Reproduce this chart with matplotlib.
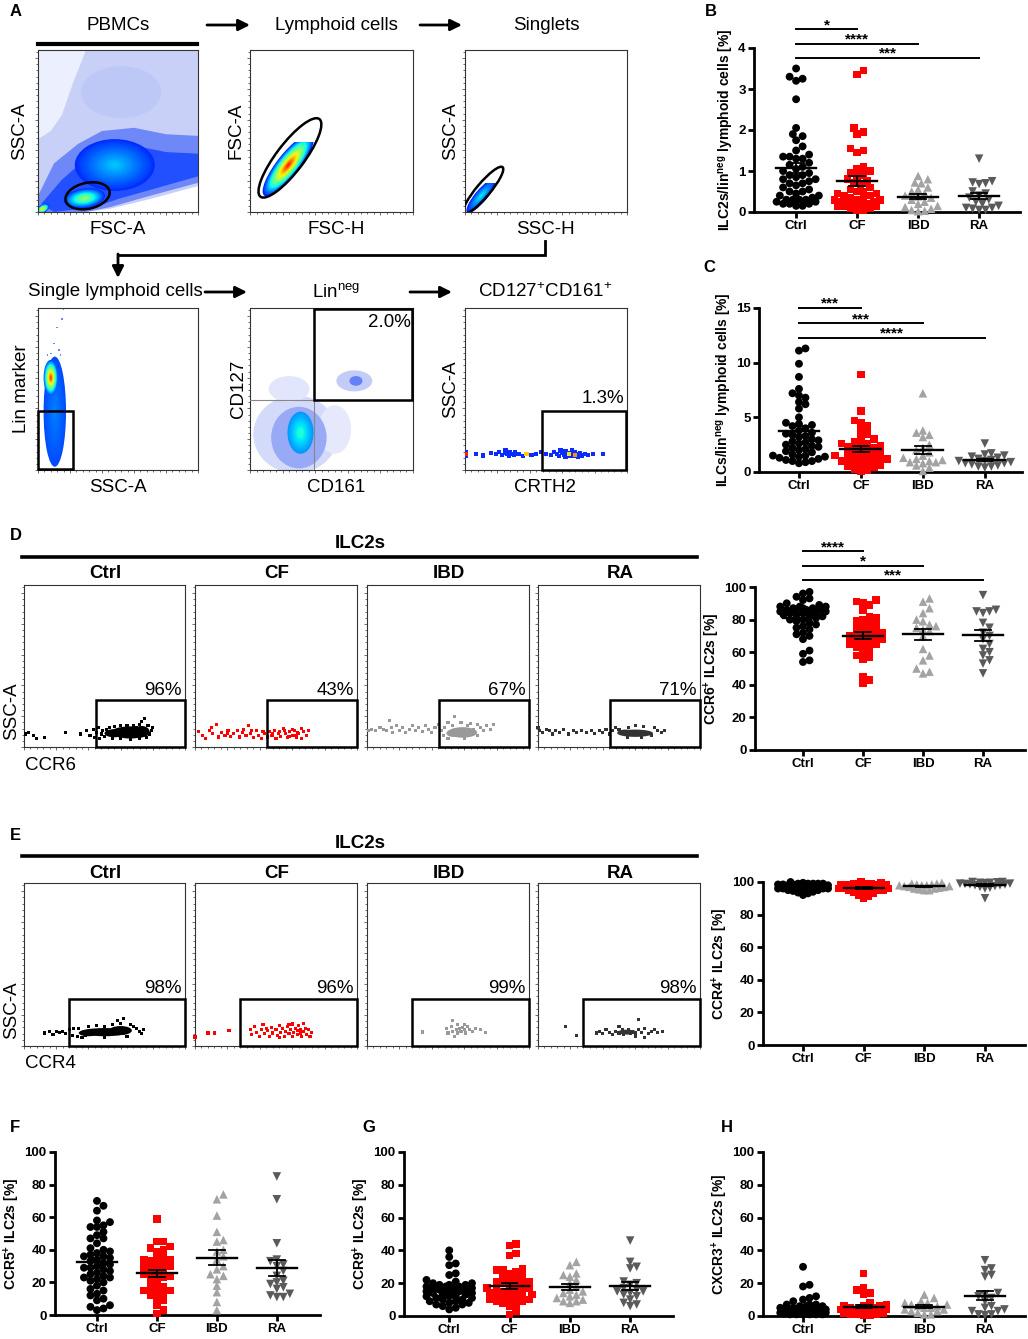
import numpy as np
import matplotlib
matplotlib.use("Agg")
import matplotlib.pyplot as plt
from matplotlib.patches import Ellipse, Rectangle, Polygon

plt.rcParams['font.family'] = ['Liberation Sans', 'DejaVu Sans']
plt.rcParams['mathtext.fontset'] = 'custom'
plt.rcParams['mathtext.rm'] = 'Liberation Sans'
plt.rcParams['mathtext.bf'] = 'Liberation Sans:bold'
plt.rcParams['mathtext.it'] = 'Liberation Sans:italic'

# ---------------------------------------------------------------- data
CATS = ['Ctrl', 'CF', 'IBD', 'RA']

# B: ILC2s / lin-neg lymphoid cells [%]
B_CTRL = [3.5, 3.3, 3.25, 3.2, 2.75, 2.05, 1.9, 1.85, 1.75, 1.6, 1.5, 1.4, 1.35, 1.35, 1.3,
          1.3, 1.2, 1.15, 1.1, 1.05, 1.0, 0.95, 0.9, 0.9, 0.85, 0.8, 0.8, 0.75, 0.7, 0.7,
          0.65, 0.6, 0.55, 0.5, 0.5, 0.45, 0.4, 0.4, 0.35, 0.3, 0.3, 0.3, 0.3, 0.25, 0.25,
          0.2, 0.2, 0.15, 0.15, 0.2]
B_CF = [3.45, 3.35, 2.05, 1.95, 1.9, 1.55, 1.5, 1.45, 1.1, 1.05, 1.0, 0.95, 0.9, 0.85, 0.8,
        0.75, 0.7, 0.65, 0.6, 0.55, 0.5, 0.5, 0.45, 0.45, 0.4, 0.4, 0.35, 0.35, 0.3, 0.3,
        0.3, 0.25, 0.25, 0.25, 0.2, 0.2, 0.2, 0.15, 0.15, 0.15, 0.1, 0.1, 0.05, 0.05]
B_IBD = [0.88, 0.8, 0.72, 0.7, 0.6, 0.55, 0.5, 0.45, 0.4, 0.38, 0.35, 0.3, 0.25, 0.2, 0.15,
         0.12, 0.08, 0.05, 0.03, 0.02]
B_RA = [1.3, 0.75, 0.72, 0.7, 0.68, 0.5, 0.45, 0.4, 0.35, 0.3, 0.25, 0.2, 0.15, 0.1, 0.1,
        0.08, 0.05, 0.05]
B_STATS = [(1, 4.46, '*'), (2, 4.1, '****'), (3, 3.76, '***')]

# C: ILCs / lin-neg lymphoid cells [%]
C_CTRL = [11.3, 11.1, 9.9, 8.7, 7.6, 7.2, 7.0, 6.8, 6.4, 6.2, 5.8, 5.0, 4.5, 4.4, 4.3, 4.2,
          4.0, 3.8, 3.6, 3.5, 3.3, 3.2, 3.0, 2.8, 2.7, 2.6, 2.5, 2.4, 2.3, 2.2, 2.0, 1.9,
          1.8, 1.6, 1.5, 1.4, 1.4, 1.3, 1.2, 1.1, 1.0, 1.0, 0.9, 0.8, 1.5, 2.1, 2.9, 3.4]
C_CF = [8.9, 5.6, 4.7, 4.5, 4.2, 3.8, 3.5, 3.2, 3.0, 2.8, 2.6, 2.5, 2.3, 2.2, 2.0, 1.9, 1.8,
        1.7, 1.6, 1.5, 1.4, 1.3, 1.2, 1.1, 1.0, 1.0, 0.9, 0.8, 0.7, 0.6, 0.5, 0.4, 0.3, 0.2,
        0.1, 1.5, 1.2, 2.1, 2.4, 2.6]
C_IBD = [7.2, 3.8, 3.6, 3.4, 3.2, 2.5, 2.2, 2.0, 1.8, 1.5, 1.3, 1.2, 1.0, 0.9, 0.9, 0.8,
         0.6, 0.4, 0.1, 1.1]
C_RA = [2.6, 1.7, 1.6, 1.5, 1.4, 1.3, 1.2, 1.1, 1.0, 1.0, 0.9, 0.8, 0.7, 0.6, 0.5, 0.5,
        0.4, 0.8]
C_STATS = [(1, 15.0, '***'), (2, 13.6, '***'), (3, 12.3, '****')]

# D: CCR6+ ILC2s [%]
D_CTRL = [97, 96, 94, 93, 92, 90, 89, 88, 88, 87, 87, 86, 86, 85, 85, 84, 84, 83, 83, 82,
          82, 81, 80, 80, 79, 78, 77, 76, 75, 74, 72, 71, 70, 68, 61, 59, 55, 54, 86, 84,
          88, 87, 86, 85]
D_CF = [92, 91, 90, 89, 86, 82, 81, 80, 79, 78, 77, 76, 75, 74, 73, 72, 72, 71, 70, 70, 69,
        68, 68, 67, 66, 65, 65, 64, 63, 62, 60, 58, 57, 56, 45, 43, 41]
D_IBD = [93, 91, 87, 84, 80, 79, 77, 76, 75, 73, 74, 70, 62, 58, 55, 50, 48, 47]
D_RA = [95, 86, 85, 85, 84, 78, 75, 72, 70, 68, 65, 62, 60, 58, 55, 53, 47]
D_STATS = [(1, 122, '****'), (2, 113, '*'), (3, 104.6, '***')]

# E: CCR4+ ILC2s [%]
E_CTRL = [100, 99.5, 99, 99, 99, 98.5, 98.5, 98, 98, 98, 98, 97.5, 97.5, 97.5, 97, 97, 97,
          97, 96.5, 96.5, 96, 96, 96, 95.5, 95, 95, 94.5, 94, 93.5, 93, 92, 98, 98.5, 99,
          97, 96, 97.5, 98, 99]
E_CF = [100, 99.5, 99, 99, 98.5, 98, 98, 97.5, 97, 97, 96.5, 96, 96, 95.5, 95, 95, 94.5, 94,
        93.5, 93, 92, 91, 90, 98, 97, 96, 95, 99, 98]
E_IBD = [99.5, 99, 99, 98.5, 98.5, 98, 98, 97.5, 97.5, 97, 97, 96.5, 96, 96, 95.5, 95, 95, 98]
E_RA = [100, 100, 99.8, 99.5, 99.5, 99.3, 99, 99, 98.8, 98.5, 98.5, 98, 98, 97.5, 97, 96.5,
        96, 90]

# F: CCR5+ ILC2s [%]
F_CTRL = [70, 67, 64, 58, 57, 55, 54, 54, 51, 49, 47, 47, 44, 41, 40, 39, 38, 37, 36, 36, 35,
          34, 33, 32, 31, 30, 29, 29, 28, 27, 26, 25, 24, 23, 23, 22, 21, 20, 18, 16, 15, 13,
          12, 10, 9, 6, 5, 4, 3]
F_CF = [59, 45, 45, 42, 41, 40, 39, 36, 35, 34, 34, 33, 32, 31, 30, 30, 29, 28, 27, 25, 24,
        24, 23, 22, 20, 18, 17, 16, 15, 15, 14, 13, 12, 10, 9, 6, 3, 1]
F_IBD = [74, 71, 61, 51, 46, 45, 40, 36, 34, 30, 28, 25, 24, 22, 18, 14, 8, 3, 39]
F_RA = [85, 71, 44, 34, 33, 31, 30, 27, 24, 21, 20, 19, 17, 13, 12, 11, 11, 16]

# G: CCR9+ ILC2s [%]
G_CTRL = [40, 36, 32, 31, 26, 25, 22, 21, 20, 20, 19, 19, 18, 18, 18, 17, 17, 17, 16, 16, 16,
          15, 15, 15, 14, 14, 14, 13, 13, 12, 12, 12, 11, 11, 10, 10, 9, 9, 8, 8, 7, 7, 6, 5,
          4, 19, 17, 16]
G_CF = [44, 43, 38, 37, 29, 28, 28, 27, 26, 25, 24, 23, 22, 21, 20, 20, 19, 18, 17, 17, 16,
        15, 15, 14, 14, 13, 12, 12, 11, 11, 10, 10, 10, 9, 9, 8, 7, 6, 3, 1, 21, 16]
G_IBD = [33, 31, 26, 25, 24, 22, 20, 18, 16, 15, 14, 13, 12, 11, 10, 9, 9, 8]
G_RA = [46, 33, 30, 29, 21, 20, 19, 17, 16, 15, 15, 14, 13, 12, 10, 8, 7, 6]

# H: CXCR3+ ILC2s [%]
H_CTRL = [30, 19, 18, 12, 10, 9, 11, 7, 7, 7, 6, 6, 5, 5, 5, 4, 4, 4, 4, 3, 3, 3, 3, 3, 3, 2,
          2, 2, 2, 2, 2, 2, 1, 1, 1, 1, 1, 1, 1.5, 1.5, 1.5, 1.5, 4, 3, 2, 6, 5, 3]
H_CF = [26, 17, 16, 14, 13, 8, 7, 6, 6, 5, 5, 5, 4, 4, 4, 3, 3, 3, 2, 2, 2, 2, 1, 1, 1, 0.5,
        0.5, 3, 4, 5, 6, 2]
H_IBD = [13, 11, 9, 8, 8, 7, 7, 6, 6, 5, 5, 4, 4, 3, 3, 2, 1, 1]
H_RA = [34, 29, 28, 25, 24, 14, 13, 12, 11, 9, 6, 5, 4, 3, 3, 1, 1, 0.5]

# flow cytometry gate readouts
D_PCT = ['96%', '43%', '67%', '71%']
E_PCT = ['98%', '96%', '99%', '98%']
LIN_PCT = '2.0%'
CRTH2_PCT = '1.3%'

# density clouds (cx, cy, w, h, angle, peak colour)
PBMC_BLOBS = [(0.48, 0.29, 0.5, 0.32, 0, 0.32), (0.29, 0.085, 0.26, 0.12, 8, 0.55),
              (0.03, 0.02, 0.09, 0.05, 30, 0.72)]
LYMPH_BLOBS = [(0.235, 0.29, 0.48, 0.14, 52, 0.88)]
SINGLET_BLOBS = [(0.1, 0.1, 0.27, 0.075, 50, 0.36)]
LIN_BLOBS = [(0.105, 0.36, 0.14, 0.68, 0, 0.25), (0.08, 0.57, 0.09, 0.22, 0, 0.86)]
CD_BLOBS = [(0.31, 0.23, 0.16, 0.26, 0, 0.4)]
LIN_SPARSE = [(0.16, 0.99), (0.15, 0.93), (0.12, 0.88), (0.1, 0.78), (0.13, 0.74),
              (0.08, 0.72), (0.14, 0.71), (0.06, 0.71)]
CRTH2_EV = [(0.005, 0.11), (0.005, 0.09), (0.07, 0.1), (0.11, 0.09), (0.16, 0.105), (0.19, 0.1),
            (0.21, 0.11), (0.23, 0.095), (0.245, 0.105), (0.26, 0.1), (0.27, 0.09), (0.28, 0.11),
            (0.29, 0.1), (0.3, 0.095), (0.31, 0.11), (0.33, 0.1), (0.36, 0.085), (0.38, 0.1),
            (0.41, 0.095), (0.44, 0.1), (0.47, 0.11), (0.5, 0.1), (0.53, 0.095), (0.55, 0.11),
            (0.57, 0.1), (0.58, 0.085), (0.6, 0.105), (0.61, 0.095), (0.62, 0.115), (0.63, 0.1),
            (0.64, 0.09), (0.65, 0.105), (0.66, 0.1), (0.67, 0.085), (0.68, 0.11), (0.69, 0.095),
            (0.7, 0.1), (0.71, 0.105), (0.72, 0.09), (0.74, 0.1), (0.76, 0.095), (0.79, 0.1),
            (0.85, 0.1), (0.59, 0.12), (0.62, 0.08), (0.66, 0.12), (0.7, 0.08), (0.25, 0.12)]
CRTH2_HOT = [(0.004, 0.1), (0.38, 0.1), (0.64, 0.1), (0.68, 0.095)]

D_CTRL_EV = [(0.01, 0.08), (0.03, 0.09), (0.06, 0.07), (0.08, 0.05), (0.13, 0.06), (0.26, 0.09),
             (0.35, 0.08), (0.39, 0.1), (0.41, 0.07), (0.43, 0.11), (0.44, 0.06), (0.45, 0.09),
             (0.46, 0.12), (0.47, 0.05), (0.48, 0.08), (0.49, 0.1), (0.5, 0.065), (0.51, 0.11),
             (0.53, 0.12), (0.56, 0.125), (0.6, 0.13), (0.64, 0.135), (0.68, 0.13), (0.72, 0.14),
             (0.75, 0.175), (0.73, 0.155), (0.77, 0.13), (0.79, 0.1), (0.8, 0.12), (0.78, 0.08),
             (0.76, 0.06), (0.72, 0.05), (0.66, 0.045), (0.6, 0.05), (0.55, 0.055),
             (0.52, 0.085), (0.7, 0.12)]
D_CF_EV = [(0.02, 0.093), (0.047, 0.072), (0.066, 0.052), (0.088, 0.103), (0.11, 0.082),
           (0.13, 0.14), (0.144, 0.062), (0.165, 0.087), (0.185, 0.072), (0.204, 0.103),
           (0.22, 0.066), (0.24, 0.082), (0.26, 0.1), (0.276, 0.062), (0.295, 0.087),
           (0.315, 0.072), (0.33, 0.134), (0.34, 0.082), (0.36, 0.058), (0.38, 0.1),
           (0.39, 0.072), (0.41, 0.052), (0.43, 0.082), (0.45, 0.062), (0.46, 0.093),
           (0.475, 0.072), (0.49, 0.103), (0.5, 0.052), (0.516, 0.082), (0.53, 0.066),
           (0.544, 0.113), (0.558, 0.082), (0.57, 0.058), (0.586, 0.093), (0.6, 0.072),
           (0.613, 0.103), (0.627, 0.062), (0.64, 0.082), (0.655, 0.052), (0.668, 0.093),
           (0.69, 0.072), (0.7, 0.1), (0.55, 0.1), (0.6, 0.11), (0.63, 0.09), (0.58, 0.065),
           (0.52, 0.095), (0.66, 0.115), (0.48, 0.085), (0.62, 0.07), (0.1, 0.12),
           (0.2, 0.085), (0.3, 0.11), (0.42, 0.095), (0.35, 0.1)]
D_IBD_EV = [(0.01, 0.1), (0.03, 0.11), (0.05, 0.1), (0.08, 0.12), (0.1, 0.11), (0.12, 0.1),
            (0.14, 0.165), (0.15, 0.12), (0.16, 0.09), (0.18, 0.13), (0.2, 0.1), (0.22, 0.12),
            (0.24, 0.09), (0.26, 0.11), (0.28, 0.13), (0.3, 0.1), (0.32, 0.12), (0.34, 0.095),
            (0.36, 0.13), (0.38, 0.11), (0.4, 0.09), (0.42, 0.12), (0.44, 0.14), (0.46, 0.1),
            (0.54, 0.186), (0.5, 0.15), (0.58, 0.15), (0.64, 0.145), (0.68, 0.14), (0.7, 0.12),
            (0.72, 0.1), (0.74, 0.13), (0.76, 0.11), (0.78, 0.14), (0.6, 0.05), (0.5, 0.05),
            (0.48, 0.12), (0.53, 0.13), (0.62, 0.13), (0.66, 0.11), (0.68, 0.07), (0.47, 0.07)]
D_RA_EV = [(0.0, 0.12), (0.01, 0.1), (0.03, 0.09), (0.05, 0.11), (0.07, 0.1), (0.09, 0.08),
           (0.11, 0.1), (0.13, 0.09), (0.16, 0.11), (0.19, 0.08), (0.22, 0.1), (0.24, 0.09),
           (0.27, 0.1), (0.3, 0.09), (0.33, 0.1), (0.35, 0.085), (0.38, 0.1), (0.4, 0.09),
           (0.42, 0.11), (0.44, 0.08), (0.46, 0.1), (0.48, 0.12), (0.72, 0.12), (0.74, 0.1),
           (0.76, 0.09), (0.78, 0.1), (0.6, 0.13), (0.65, 0.125), (0.55, 0.06), (0.5, 0.11),
           (0.56, 0.12), (0.7, 0.07), (0.64, 0.06)]
E_CTRL_EV = [(0.13, 0.08), (0.16, 0.09), (0.18, 0.07), (0.2, 0.09), (0.22, 0.085), (0.24, 0.09),
             (0.26, 0.075), (0.28, 0.1), (0.3, 0.065), (0.31, 0.105), (0.33, 0.06), (0.7, 0.11),
             (0.72, 0.09), (0.74, 0.1), (0.73, 0.075), (0.62, 0.17), (0.6, 0.14), (0.55, 0.13),
             (0.66, 0.13), (0.4, 0.12), (0.45, 0.125), (0.5, 0.05), (0.36, 0.05), (0.34, 0.11),
             (0.38, 0.065), (0.5, 0.12), (0.64, 0.06), (0.68, 0.12), (0.58, 0.155)]
E_CF_EV = [(0.0, 0.055), (0.08, 0.08), (0.12, 0.08), (0.21, 0.095), (0.34, 0.1), (0.35, 0.07),
           (0.37, 0.12), (0.38, 0.085), (0.4, 0.06), (0.41, 0.1), (0.42, 0.13), (0.43, 0.075),
           (0.45, 0.095), (0.46, 0.06), (0.47, 0.115), (0.48, 0.08), (0.5, 0.1), (0.51, 0.065),
           (0.52, 0.125), (0.53, 0.085), (0.54, 0.105), (0.55, 0.06), (0.56, 0.09), (0.57, 0.12),
           (0.58, 0.075), (0.59, 0.1), (0.6, 0.135), (0.6, 0.06), (0.61, 0.085), (0.62, 0.11),
           (0.63, 0.07), (0.63, 0.095), (0.64, 0.125), (0.65, 0.08), (0.65, 0.1), (0.66, 0.06),
           (0.67, 0.14), (0.67, 0.09), (0.68, 0.11), (0.69, 0.07), (0.7, 0.1), (0.71, 0.06),
           (0.72, 0.085), (0.58, 0.13), (0.52, 0.05), (0.44, 0.11)]
E_IBD_EV = [(0.34, 0.086), (0.53, 0.158), (0.49, 0.11), (0.5, 0.08), (0.52, 0.12), (0.53, 0.09),
            (0.54, 0.06), (0.55, 0.1), (0.56, 0.08), (0.57, 0.11), (0.58, 0.09), (0.59, 0.115),
            (0.6, 0.1), (0.61, 0.08), (0.62, 0.12), (0.63, 0.1), (0.65, 0.09), (0.67, 0.11),
            (0.7, 0.1), (0.73, 0.085), (0.56, 0.13), (0.6, 0.13)]
E_RA_EV = [(0.17, 0.12), (0.24, 0.065), (0.36, 0.08), (0.38, 0.09), (0.4, 0.075), (0.42, 0.1),
           (0.44, 0.085), (0.46, 0.07), (0.48, 0.09), (0.5, 0.08), (0.52, 0.1), (0.53, 0.07),
           (0.54, 0.085), (0.56, 0.1), (0.57, 0.075), (0.58, 0.09), (0.6, 0.08), (0.62, 0.16),
           (0.62, 0.1), (0.64, 0.085), (0.66, 0.11), (0.68, 0.075), (0.7, 0.09), (0.72, 0.1),
           (0.74, 0.085), (0.77, 0.09), (0.6, 0.06), (0.66, 0.05), (0.5, 0.12)]
# dense cores of the CCR6 / CCR4 event clouds (cx, cy, w, h)
D_CORES = [[(0.66, 0.09, 0.24, 0.075), (0.56, 0.085, 0.12, 0.05), (0.73, 0.095, 0.1, 0.07)],
           [],
           [(0.59, 0.09, 0.18, 0.065), (0.53, 0.085, 0.08, 0.045)],
           [(0.6, 0.085, 0.22, 0.045), (0.54, 0.09, 0.1, 0.035)]]
E_CORES = [[(0.5, 0.085, 0.3, 0.05), (0.6, 0.095, 0.14, 0.055), (0.4, 0.08, 0.12, 0.04)],
           [], [], [(0.55, 0.085, 0.12, 0.03)]]

# ---------------------------------------------------------------- style
W, H = 1028, 1339
GROUP_COLORS = ['#000000', '#ff0000', '#a3a3a3', '#5a5a5a']
GROUP_MARKERS = ['o', 's', '^', 'v']
GROUP_SIZES = [32, 30, 38, 38]

fig = plt.figure(figsize=(W / 100, H / 100), dpi=100)

ov = fig.add_axes([0, 0, 1, 1])
ov.set_xlim(0, W)
ov.set_ylim(H, 0)
ov.axis('off')


def px_axes(x0, y0, x1, y1):
    return fig.add_axes([x0 / W, 1 - y1 / H, (x1 - x0) / W, (y1 - y0) / H])


def label(x, y, s, size=13.5, weight='normal', **kw):
    ov.text(x, y, s, fontsize=size, fontweight=weight, ha=kw.pop('ha', 'center'),
            va=kw.pop('va', 'center'), **kw)


def arrow(x0, y0, x1, y1):
    ov.annotate('', xy=(x1, y1), xytext=(x0, y0),
                arrowprops=dict(arrowstyle='-|>', color='black', lw=2,
                                mutation_scale=17, shrinkA=0, shrinkB=0))


def flow_axes(box):
    ax = px_axes(*box)
    ax.set_xlim(0, 1)
    ax.set_ylim(0, 1)
    for s in ax.spines.values():
        s.set_linewidth(0.8)
        s.set_color('#333333')
    ax.set_xticks(np.arange(0, 1.01, 0.2))
    ax.set_yticks(np.arange(0, 1.0, 0.19))
    ax.set_xticks(np.arange(0, 1.0, 0.04), minor=True)
    ax.set_yticks(np.arange(0, 1.0, 0.038), minor=True)
    ax.tick_params(which='both', direction='out', length=2.5, width=0.6, colors='#555555',
                   labelbottom=False, labelleft=False)
    ax.tick_params(which='minor', length=1.3)
    return ax


def blob(ax, spec, n=18, clip_top=None, start=0.2):
    cx, cy, w, h, ang, peak = spec
    clip = None
    if clip_top is not None:
        clip = Rectangle((0, 0), 1, clip_top, transform=ax.transData)
    for i in range(n):
        f = 1 - i / n
        c = plt.cm.jet(start + (peak - start) * i / (n - 1))
        e = Ellipse((cx, cy), w * f, h * f, angle=ang, facecolor=c, edgecolor='none', zorder=2)
        ax.add_patch(e)
        if clip is not None:
            e.set_clip_path(clip)


def gate_box(ax, x0, y0, x1, y1, lw=1.8):
    ax.add_patch(Rectangle((x0, y0), x1 - x0, y1 - y0, fill=False, edgecolor='black',
                           lw=lw, zorder=5, clip_on=False))


def swarm_offsets(vals, ax, d_px=6.0, max_w=0.42):
    bb = ax.get_window_extent()
    x0, x1 = ax.get_xlim()
    y0, y1 = ax.get_ylim()
    ppx = bb.width / (x1 - x0)
    ppy = bb.height / (y1 - y0)
    vals = np.asarray(vals, float)
    out = np.zeros(len(vals))
    placed = []
    cands = [0.0]
    k = 1
    while k * d_px * 0.5 <= max_w * ppx:
        cands += [k * d_px * 0.5, -k * d_px * 0.5]
        k += 1
    for idx in np.argsort(vals):
        y = vals[idx] * ppy
        best, best_d = 0.0, -1
        for c in cands:
            md = min([np.hypot(c - px, y - py) for px, py in placed], default=1e9)
            if md >= d_px:
                best = c
                break
            if md > best_d:
                best, best_d = c, md
        placed.append((best, y))
        out[idx] = best / ppx
    return out


def dot_panel(box, xlim, ylim, yticks, ylabel, groups, stats=None, d_px=6.5):
    ax = px_axes(*box)
    ax.set_xlim(*xlim)
    ax.set_ylim(*ylim)
    for i, vals in enumerate(groups):
        xo = swarm_offsets(vals, ax, d_px)
        ax.scatter(i + xo, vals, s=GROUP_SIZES[i], marker=GROUP_MARKERS[i],
                   color=GROUP_COLORS[i], edgecolors='none', zorder=3, clip_on=False)
        m = np.mean(vals)
        sem = np.std(vals, ddof=1) / np.sqrt(len(vals))
        ax.plot([i - 0.33, i + 0.33], [m, m], color='black', lw=1.7, zorder=4)
        for v in (m - sem, m + sem):
            ax.plot([i - 0.13, i + 0.13], [v, v], color='black', lw=1.3, zorder=4)
        ax.plot([i, i], [m - sem, m + sem], color='black', lw=1.3, zorder=4)
    for j, yv, stars in stats or []:
        ax.plot([0, j], [yv, yv], color='black', lw=1.4, clip_on=False)
        ax.annotate(stars, xy=(j / 2, yv), xytext=(0, 3.0), textcoords='offset points',
                    ha='center', va='center', fontsize=11, fontweight='bold',
                    annotation_clip=False)
    for s in ('top', 'right'):
        ax.spines[s].set_visible(False)
    for s in ('left', 'bottom'):
        ax.spines[s].set_linewidth(2)
    ax.set_yticks(yticks)
    ax.set_xticks(range(len(CATS)))
    ax.set_xticklabels(CATS)
    ax.tick_params(direction='out', length=4, width=2, labelsize=9.5, pad=2)
    for t in ax.get_xticklabels() + ax.get_yticklabels():
        t.set_fontweight('bold')
    ax.set_ylabel(ylabel, fontsize=10, fontweight='bold', labelpad=1.5)
    return ax


# ---------------------------------------------------------------- panel A
label(10, 12, 'A', size=12, weight='bold', ha='left')
label(118, 25, 'PBMCs')
label(336, 25, 'Lymphoid cells')
label(546, 25, 'Singlets')
ov.plot([38, 197], [44, 44], color='black', lw=3)
arrow(207, 25, 250, 25)
arrow(420, 25, 462, 25)

a1 = flow_axes((38, 50, 198, 212))
a1.add_patch(Polygon([(0, 0), (0, 1), (1, 1), (1, 0.16), (0.7, 0.08), (0.45, 0.02), (0.3, 0)],
                     facecolor='#c8d0f8', edgecolor='none', zorder=1))
a1.add_patch(Polygon([(0, 0.45), (0, 1), (0.3, 1), (0.22, 0.8), (0.15, 0.6), (0.08, 0.5)],
                     facecolor='#eceffd', edgecolor='none', zorder=1))
a1.add_patch(Ellipse((0.52, 0.74), 0.5, 0.32, facecolor='#bec8f7', edgecolor='none', zorder=1))
a1.add_patch(Polygon([(0, 0.1), (0.1, 0.3), (0.25, 0.42), (0.4, 0.5), (0.6, 0.52), (0.8, 0.48),
                      (1, 0.47), (1, 0.18), (0.7, 0.1), (0.45, 0.03), (0.3, 0), (0, 0)],
                     facecolor='#6f88f8', edgecolor='none', zorder=1))
a1.add_patch(Polygon([(0.02, 0.05), (0.15, 0.2), (0.3, 0.33), (0.45, 0.41), (0.6, 0.41),
                      (0.8, 0.37), (1, 0.36), (1, 0.22), (0.75, 0.15), (0.5, 0.08), (0.35, 0.03),
                      (0.1, 0)], facecolor='#2250ff', edgecolor='none', zorder=1))
for spec in PBMC_BLOBS:
    blob(a1, spec, start=0.17)
a1.add_patch(Ellipse((0.31, 0.1), 0.28, 0.16, angle=12, fill=False, edgecolor='black',
                     lw=1.8, zorder=6))

a2 = flow_axes((250, 50, 413, 212))
for spec in LYMPH_BLOBS:
    blob(a2, spec, clip_top=0.43, start=0.16)
a2.add_patch(Ellipse((0.245, 0.334), 0.6, 0.17, angle=53, fill=False, edgecolor='black',
                     lw=1.8, zorder=6))

a3 = flow_axes((465, 50, 627, 212))
for spec in SINGLET_BLOBS:
    blob(a3, spec, clip_top=0.18, start=0.16)
a3.add_patch(Ellipse((0.113, 0.135), 0.37, 0.085, angle=50, fill=False, edgecolor='black',
                     lw=1.8, zorder=6))

label(20, 131, 'SSC-A', rotation=90)
label(118, 230, 'FSC-A')
label(236, 131, 'FSC-A', rotation=90)
label(336, 230, 'FSC-H')
label(451, 131, 'SSC-A', rotation=90)
label(545, 230, 'SSC-H')

ov.plot([545, 545, 118], [241, 255, 255], color='black', lw=2, solid_joinstyle='miter')
arrow(118, 254, 118, 278)

label(115, 292, 'Single lymphoid cells')
label(336, 292, r'Lin$^{\mathrm{neg}}$')
label(545, 292, r'CD127$^{+}$CD161$^{+}$')
arrow(205, 292, 247, 292)
arrow(410, 292, 452, 292)

a4 = flow_axes((38, 308, 198, 470))
for spec in LIN_BLOBS:
    blob(a4, spec)
a4.scatter([p[0] for p in LIN_SPARSE], [p[1] for p in LIN_SPARSE], s=1.5, marker='s',
           color='#6b84ff', edgecolors='none', zorder=3)
gate_box(a4, 0.0, 0.005, 0.22, 0.365)

a5 = flow_axes((250, 308, 413, 470))
a5.add_patch(Ellipse((0.28, 0.22), 0.52, 0.48, facecolor='#d4daf9', edgecolor='none', zorder=1))
a5.add_patch(Ellipse((0.24, 0.5), 0.25, 0.16, facecolor='#e2e6fc', edgecolor='none', zorder=1))
a5.add_patch(Ellipse((0.52, 0.25), 0.2, 0.3, facecolor='#e6e9fc', edgecolor='none', zorder=1))
a5.add_patch(Ellipse((0.3, 0.2), 0.34, 0.38, facecolor='#98a9f6', edgecolor='none', zorder=1))
a5.add_patch(Ellipse((0.64, 0.55), 0.22, 0.13, facecolor='#c3ccf7', edgecolor='none', zorder=1))
a5.add_patch(Ellipse((0.65, 0.55), 0.08, 0.06, facecolor='#6680f8', edgecolor='none', zorder=2))
for spec in CD_BLOBS:
    blob(a5, spec, start=0.27)
a5.axvline(0.39, color='#888888', lw=0.8, zorder=4)
a5.axhline(0.435, color='#888888', lw=0.8, zorder=4)
gate_box(a5, 0.39, 0.435, 0.995, 0.995)
a5.text(0.985, 0.91, LIN_PCT, transform=a5.transAxes, ha='right', va='center', fontsize=13.5,
        zorder=7)

a6 = flow_axes((465, 308, 627, 470))
a6.scatter([p[0] for p in CRTH2_EV], [p[1] for p in CRTH2_EV], s=9, marker='s',
           color='#0a2cff', edgecolors='none', zorder=3)
a6.scatter([p[0] for p in CRTH2_HOT], [p[1] for p in CRTH2_HOT], s=9, marker='s',
           color=['#ff2000', '#ffd000', '#ffe000', '#ff9000'], edgecolors='none', zorder=4)
gate_box(a6, 0.477, 0.0, 0.995, 0.365)
a6.text(0.985, 0.44, CRTH2_PCT, transform=a6.transAxes, ha='right', va='center', fontsize=13.5)

label(22, 389, 'Lin marker', rotation=90)
label(118, 487, 'SSC-A')
label(238, 389, 'CD127', rotation=90)
label(336, 487, 'CD161')
label(451, 389, 'SSC-A', rotation=90)
label(545, 487, 'CRTH2')

# ---------------------------------------------------------------- panels D / E (left)
FLOW_X = [(24, 185), (195, 357), (367, 529), (538, 700)]
EVENT_COLORS = ['#000000', '#ff0000', '#999999', '#333333']


def event_row(top, bottom, gate_x0, pcts, events, cores, title_y, bar_y, head_y, letter, marker):
    label(10, head_y - 8, letter, size=12, weight='bold', ha='left')
    label(360, head_y, 'ILC2s', weight='bold')
    ov.plot([22, 697], [bar_y, bar_y], color='black', lw=2.6)
    for i, (x0, x1) in enumerate(FLOW_X):
        label((x0 + x1) / 2 + 1, title_y, CATS[i], weight='bold')
        ax = flow_axes((x0, top, x1, bottom))
        for cx, cy, w, h in cores[i]:
            ax.add_patch(Ellipse((cx, cy), w, h, facecolor=EVENT_COLORS[i], edgecolor='none',
                                 zorder=3))
        ev = events[i]
        ax.scatter([p[0] for p in ev], [p[1] for p in ev], s=5, marker='s',
                   color=EVENT_COLORS[i], edgecolors='none', zorder=3, clip_on=False)
        gate_box(ax, gate_x0, 0.0, 1.0, 0.29, lw=1.8)
        ax.text(0.98, 0.35, pcts[i], transform=ax.transAxes, ha='right', va='center',
                fontsize=13.5)
    label(12, bottom - 36, 'SSC-A', rotation=90)
    label(25, bottom + 18, marker, ha='left')


event_row(585, 747, 0.445, D_PCT, [D_CTRL_EV, D_CF_EV, D_IBD_EV, D_RA_EV], D_CORES,
          574, 557, 543, 'D', 'CCR6')
event_row(883, 1046, 0.28, E_PCT, [E_CTRL_EV, E_CF_EV, E_IBD_EV, E_RA_EV], E_CORES,
          873, 856, 843, 'E', 'CCR4')

# ---------------------------------------------------------------- dot plots
label(705, 12, 'B', size=12, weight='bold', ha='left')
dot_panel((754, 48, 1020, 212), (-0.69, 3.67), (0, 4), [0, 1, 2, 3, 4],
          r'ILC2s/lin$^{\mathbf{neg}}$ lymphoid cells [%]', [B_CTRL, B_CF, B_IBD, B_RA], B_STATS)

label(703, 268, 'C', size=12, weight='bold', ha='left')
dot_panel((759, 308, 1022, 472), (-0.645, 3.6), (0, 15), [0, 5, 10, 15],
          r'ILCs/lin$^{\mathbf{neg}}$ lymphoid cells [%]', [C_CTRL, C_CF, C_IBD, C_RA], C_STATS)

dot_panel((755, 587, 1025, 750), (-0.8, 3.7), (0, 100), range(0, 101, 20),
          r'CCR6$^{\mathbf{+}}$ ILC2s [%]', [D_CTRL, D_CF, D_IBD, D_RA], D_STATS)

dot_panel((763, 882, 1025, 1045), (-0.66, 3.66), (0, 100), range(0, 101, 20),
          r'CCR4$^{\mathbf{+}}$ ILC2s [%]', [E_CTRL, E_CF, E_IBD, E_RA], d_px=5.0)

label(10, 1127, 'F', size=12, weight='bold', ha='left')
dot_panel((55, 1152, 320, 1315), (-0.7, 3.72), (0, 100), range(0, 101, 20),
          r'CCR5$^{\mathbf{+}}$ ILC2s [%]', [F_CTRL, F_CF, F_IBD, F_RA])

label(362, 1127, 'G', size=12, weight='bold', ha='left')
dot_panel((404, 1152, 673, 1316), (-0.75, 3.71), (0, 100), range(0, 101, 20),
          r'CCR9$^{\mathbf{+}}$ ILC2s [%]', [G_CTRL, G_CF, G_IBD, G_RA])

label(721, 1127, 'H', size=12, weight='bold', ha='left')
dot_panel((763, 1152, 1025, 1316), (-0.66, 3.66), (0, 100), range(0, 101, 20),
          r'CXCR3$^{\mathbf{+}}$ ILC2s [%]', [H_CTRL, H_CF, H_IBD, H_RA])

fig.savefig('out.png', dpi=100)
